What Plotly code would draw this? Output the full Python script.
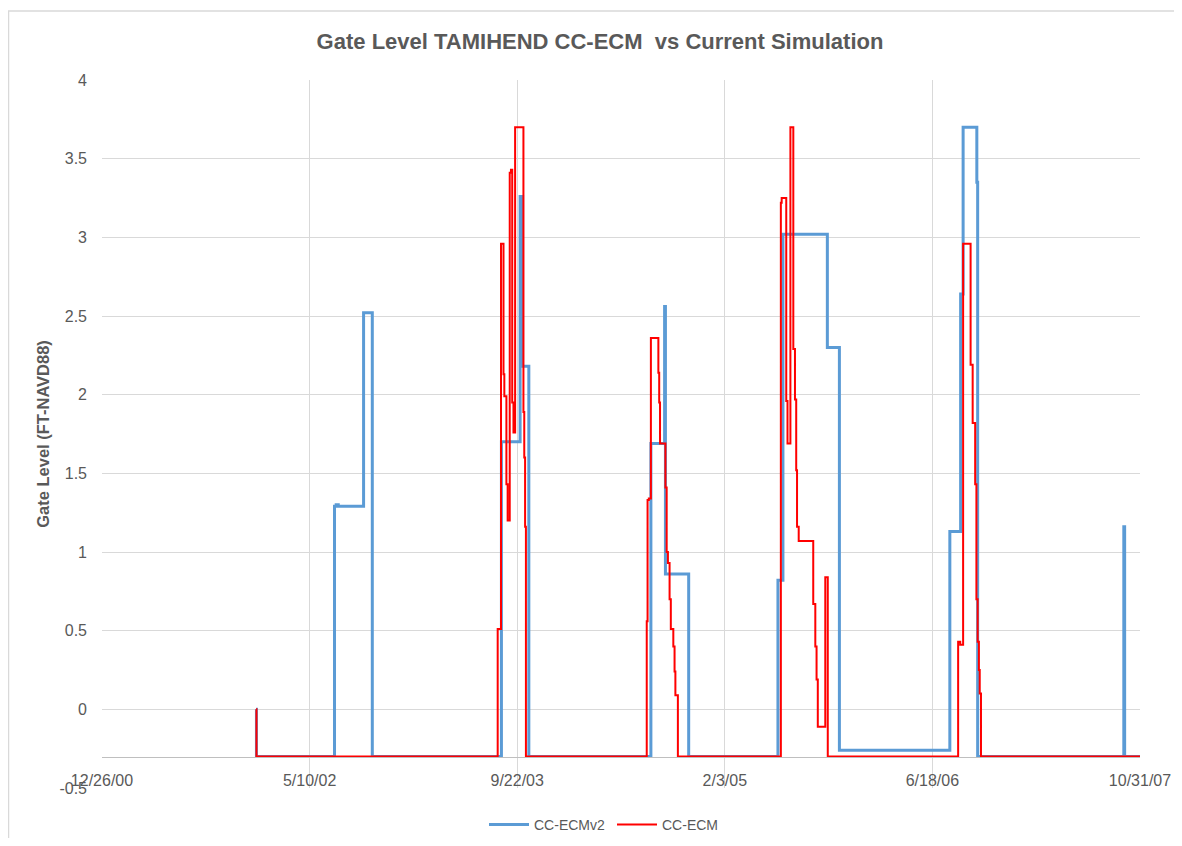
import plotly.graph_objects as go

# ---------------- data ----------------
v2_dates = ["2002-01-01", "2002-01-02", "2002-07-09", "2002-07-13", "2002-07-18", "2002-09-17", "2002-10-08",
            "2003-08-15", "2003-09-29", "2003-10-05", "2003-10-20",
            "2004-08-09", "2004-09-11", "2004-09-13", "2004-11-08",
            "2005-06-11", "2005-06-23", "2005-10-08", "2005-11-06",
            "2006-07-30", "2006-08-25", "2006-08-31", "2006-10-03", "2006-10-05",
            "2007-09-22", "2007-09-24", "2007-10-31"]
v2_values = [0.0, -0.3, 1.29, 1.30, 1.29, 2.52, -0.3,
             1.70, 3.26, 2.18, -0.3,
             1.69, 2.56, 0.86, -0.3,
             0.82, 3.02, 2.30, -0.26,
             1.13, 2.64, 3.70, 3.35, -0.3,
             1.16, -0.3, -0.3]

ecm_dates = ["2002-01-01", "2002-01-02",
             "2003-08-06", "2003-08-14", "2003-08-20", "2003-08-22", "2003-08-27", "2003-08-30",
             "2003-09-04", "2003-09-07", "2003-09-10", "2003-09-13", "2003-09-17",
             "2003-10-07", "2003-10-09", "2003-10-11", "2003-10-13",
             "2004-07-30", "2004-08-01", "2004-08-04", "2004-08-09", "2004-08-27", "2004-08-29",
             "2004-08-31", "2004-09-13", "2004-09-16", "2004-09-19", "2004-09-23", "2004-09-26",
             "2004-10-02", "2004-10-05", "2004-10-07", "2004-10-13",
             "2005-06-18", "2005-06-20", "2005-07-01", "2005-07-04", "2005-07-11", "2005-07-18",
             "2005-07-22", "2005-07-25", "2005-07-27", "2005-07-31", "2005-09-04", "2005-09-09",
             "2005-09-12", "2005-09-15", "2005-10-03", "2005-10-09",
             "2006-08-19", "2006-08-24", "2006-08-31", "2006-09-18", "2006-09-23", "2006-09-29",
             "2006-10-02", "2006-10-05", "2006-10-08", "2006-10-10", "2006-10-13",
             "2007-10-31"]
ecm_values = [0.0, -0.3,
              0.51, 2.96, 2.13, 1.99, 1.43, 1.20,
              3.41, 3.43, 1.95, 1.76, 3.70,
              1.89, 1.60, 1.16, -0.3,
              0.56, 1.33, 1.34, 2.36, 2.14, 1.95,
              1.69, 1.41, 1.00, 0.93, 0.70, 0.51,
              0.40, 0.24, 0.09, -0.3,
              3.22, 3.25, 1.96, 1.69, 3.70, 2.29,
              1.97, 1.52, 1.16, 1.07, 0.67, 0.40,
              0.19, -0.11, 0.84, -0.3,
              0.43, 0.41, 2.96, 2.19, 1.82, 1.43,
              0.70, 0.43, 0.25, 0.10, -0.3,
              -0.3]

x_ticks = ["2000-12-26", "2002-05-10", "2003-09-22", "2005-02-03", "2006-06-18", "2007-10-31"]
x_tick_labels = ["12/26/00", "5/10/02", "9/22/03", "2/3/05", "6/18/06", "10/31/07"]
y_ticks = [-0.5, 0, 0.5, 1, 1.5, 2, 2.5, 3, 3.5, 4]
y_tick_labels = ["-0.5", "0", "0.5", "1", "1.5", "2", "2.5", "3", "3.5", "4"]

title_text = "Gate Level TAMIHEND CC-ECM  vs Current Simulation"
y_title = "Gate Level (FT-NAVD88)"
series_names = ["CC-ECMv2", "CC-ECM"]

# ---------------- figure ----------------
FONT = "Liberation Sans"
GRAY = "#595959"
GRID = "#D9D9D9"

W, H = 1166, 830
L, R, T, B = 94, 34, 72, 50
PW, PH = W - L - R, H - T - B

fig = go.Figure()
fig.add_trace(go.Scatter(x=v2_dates, y=v2_values, mode="lines", name=series_names[0],
                         line=dict(color="#5B9BD5", width=3, shape="hv")))
fig.add_trace(go.Scatter(x=ecm_dates, y=ecm_values, mode="lines", name=series_names[1],
                         line=dict(color="#FF0000", width=2, shape="hv")))

y_min, y_max = -0.5, 4
x_cross = -0.3

fig.update_layout(
    width=W, height=H,
    margin=dict(l=L, r=R, t=T, b=B, autoexpand=False),
    paper_bgcolor="white", plot_bgcolor="white",
    font=dict(family=FONT, color=GRAY, size=16),
    title=dict(text="<b>" + title_text + "</b>", x=592 / W, xanchor="center",
               y=1 - 33 / H, yanchor="middle", font=dict(size=22, color=GRAY, family=FONT)),
    showlegend=True,
    legend=dict(orientation="h", x=(604 - L) / PW, xanchor="center", y=(T + PH - 817) / PH,
                yanchor="middle", font=dict(size=14, color=GRAY, family=FONT), itemwidth=40,
                entrywidth=73, bgcolor="rgba(0,0,0,0)"),
    xaxis=dict(type="date", range=[x_ticks[0], x_ticks[-1]],
               tickmode="array", tickvals=x_ticks, ticktext=x_tick_labels,
               showgrid=True, gridcolor=GRID, gridwidth=1,
               showline=True, linecolor="#BFBFBF", linewidth=1,
               anchor="free", position=(x_cross - y_min) / (y_max - y_min),
               ticks="", ticklabelstandoff=9, automargin=False,
               tickfont=dict(size=16, color=GRAY), zeroline=False),
    yaxis=dict(range=[y_min, y_max], tickmode="array", tickvals=y_ticks, ticktext=y_tick_labels,
               showgrid=True, gridcolor=GRID, gridwidth=1, zeroline=False,
               showline=False, ticks="", ticklabelstandoff=14, automargin=False,
               tickfont=dict(size=16, color=GRAY),
               title=dict(text="<b>" + y_title + "</b>", font=dict(size=16.5, color=GRAY), standoff=5)),
    shapes=[dict(type="rect", xref="paper", yref="paper",
                 x0=(0.5 - L) / PW, x1=(W + 20 - L) / PW,
                 y0=-(B + 20) / PH, y1=(T + PH - 3) / PH,
                 line=dict(color=GRID, width=1.5), fillcolor="rgba(0,0,0,0)", layer="below")],
)

fig.write_html("out.html")
